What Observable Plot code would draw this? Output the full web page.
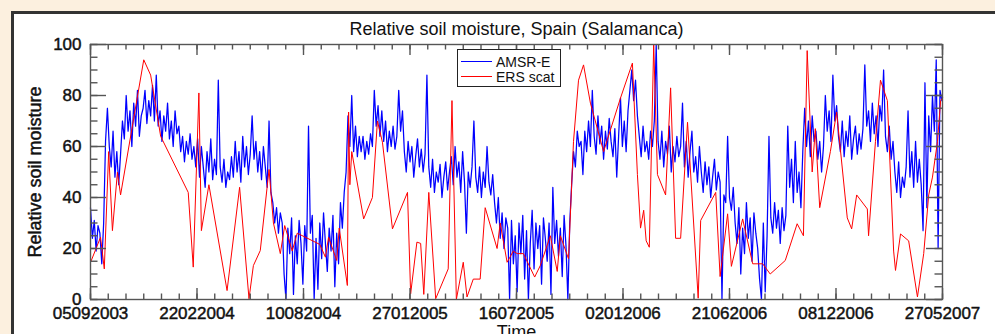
<!DOCTYPE html>
<html><head><meta charset="utf-8">
<script src="https://cdn.jsdelivr.net/npm/d3@7"></script>
<script src="https://cdn.jsdelivr.net/npm/@observablehq/plot@0.6"></script>
<style>
html,body{margin:0;padding:0;background:#fcf0df;}
#wrap{position:relative;width:995px;height:334px;overflow:hidden;background:#fcf0df;}
#panel{position:absolute;left:11px;top:11px;width:1000px;height:340px;background:#fff;border-left:3px solid #333;border-top:3px solid #333;}
#chart{position:absolute;left:0;top:0;}
#legend{position:absolute;left:457px;top:49px;width:102px;height:36px;border:1px solid #222;background:#fff;}
#chart g[aria-label="x-axis tick label"] text, #chart g[aria-label="y-axis tick label"] text, #chart .ytitle text {stroke:#111;stroke-width:0.45px;}
</style></head><body>
<div id="wrap"><div id="panel"></div><div id="chart"></div><div id="legend"></div></div>
<script>
const FONT = '"Liberation Sans", Arial, Helvetica, sans-serif';
const title = "Relative soil moisture, Spain (Salamanca)";
const yTitle = "Relative soil moisture";
const xTitle = "Time";
const tickLabels = ["05092003","22022004","10082004","27012005","16072005","02012006","21062006","08122006","27052007"];
const yTicks = [0, 20, 40, 60, 80, 100];
const seriesNames = ["AMSR-E", "ERS scat"];
const seriesColors = ["#0000ff", "#ff0000"];

// AMSR-E: one value every 3 days from 05/09/2003
const amsrStep = 3;
const amsrValues = [
36,24,31,19,29,26,14,30,62,75,
60,52,66,48,58,45,57,
70,63,80,66,74,60,77,68,82,64,72,
75,82,69,78,72,84,70,88,
68,74,62,72,66,77,63,70,60,74,65,68,
58,64,54,62,57,65,55,60,52,63,
48,60,52,44,58,50,63,47,55,49,
86,
52,46,55,44,50,47,
56,48,62,50,58,46,64,52,60,49,57,72,
55,62,50,58,47,60,52,44,70,42,
38,30,36,26,34,
30,10,0,28,18,32,2,25,14,31,22,6,29,19,68,26,33,0,24,4,30,16,34,22,11,28,19,33,5,26,14,
38,28,42,50,
72,60,80,58,68,56,64,
58,64,55,62,57,65,60,
82,68,76,64,74,
62,70,58,66,60,68,59,64,
82,66,74,
58,50,62,54,60,48,56,63,52,59,50,57,
88,
52,44,55,42,50,46,53,40,48,54,43,50,
56,45,60,48,54,42,58,46,26,50,44,52,
70,
48,42,52,40,50,44,60,46,41,49,
38,30,40,24,34,20,32,
28,0,31,14,25,3,30,18,33,8,27,0,22,35,12,30,20,29,6,32,24,15,30,2,44,22,31,17,28,9,33,21,0,30,
45,58,52,66,60,
62,49,66,58,70,60,82,64,57,72,61,68,55,66,59,71,62,56,67,48,64,79,60,70,58,
74,82,90,78,86,72,
64,56,68,58,62,55,66,60,
70,100,62,
55,66,52,62,57,68,50,60,54,64,56,
60,77,52,62,48,58,66,50,56,46,60,
50,42,54,45,52,40,48,55,43,50,46,0,41,38,
64,40,35,44,
30,22,36,10,28,18,38,24,32,15,34,26,20,8,0,30,3,25,
64,
32,26,38,28,35,22,36,27,33,
68,44,55,38,62,42,50,36,58,
75,60,70,56,72,62,66,
55,62,50,60,
80,66,74,62,88,70,76,
64,58,70,56,66,60,72,55,63,68,57,65,59,67,
92,
68,74,62,77,65,72,60,76,70,90,
64,58,68,55,62,
50,42,54,40,48,44,52,
74,48,58,44,62,46,55,
45,27,85,36,
72,58,80,66,94,20,82,78
];

// ERS scatterometer: day offset from 05/09/2003 and value
const ersDays = [0,16,22,29,35,43,48,85,96,112,156,164,173,177,189,218,238,253,260,271,285,292,303,310,322,330,366,375,380,393,397,410,412,414,417,436,450,458,466,482,506,511,521,527,532,540,551,571,577,584,595,601,611,622,630,649,654,665,675,681,691,709,718,734,745,750,763,771,779,787,798,819,846,865,873,878,883,887,892,899,905,918,926,934,942,953,970,974,998,1005,1017,1023,1041,1057,1073,1085,1109,1128,1138,1144,1152,1157,1164,1181,1191,1208,1215,1223,1240,1242,1253,1261,1272,1282,1285,1293,1306,1320,1330,1338,1344,1352,1357,1360];
const ersValues = [14.5,24.4,12,58,27,50,41,94,88,64,42,12.7,81,27,45,3.5,44,0.3,13.3,19.2,51,30,18,29,19,26,21.6,16.6,24.4,15.3,28,5.5,73.5,45,58,31.6,40,70,61.7,27.7,42,2.2,22.5,22,2,42,0.3,12,78,0,14.6,1,8,8,36,20,30,14.6,19,18,18,8.8,13.3,25,11,25,16,62,86,92,77,58,79,92.7,49,28,35,23,20.5,100,49,41,83,24,24,69.5,0.5,31,42,9,33.6,13,31.6,14,14,10,15.3,29.7,25,97.6,50,67,36,58,73.5,32,27.7,41,35.5,25,62,86,78,19,11.4,25.7,23,1,18,41,48,62,78,79];

const parse = d3.utcParse("%d%m%Y");
const fmt = d3.utcFormat("%d%m%Y");
const start = parse(tickLabels[0]);
const dayMs = 864e5;
const majors = tickLabels.map(parse);
const majorStep = (majors[1] - majors[0]);
const minors = d3.range(0, 6 * (majors.length - 1) + 1).map(k => new Date(+start + k * majorStep / 6));
const yMinor = d3.range(0, 101, 5);

const amsr = amsrValues.map((v, i) => ({date: new Date(+start + i * amsrStep * dayMs), value: v}));
const ers = ersDays.map((d, i) => ({date: new Date(+start + d * dayMs), value: ersValues[i]}));

const W = 995, H = 334, mL = 90, mR = 53, mT = 44, mB = 35;
const pw = W - mL - mR, ph = H - mT - mB;
const AX = "#555", AW = 1.4;

const chart = Plot.plot({
  width: W, height: H, marginLeft: mL, marginRight: mR, marginTop: mT, marginBottom: mB,
  style: {background: "transparent", fontFamily: FONT, color: "#111", overflow: "visible"},
  x: {type: "utc", domain: [majors[0], majors[majors.length - 1]]},
  y: {domain: [0, 100]},
  marks: [
    Plot.lineY(amsr, {x: "date", y: "value", stroke: seriesColors[0], strokeWidth: 1.25}),
    Plot.lineY(ers, {x: "date", y: "value", stroke: seriesColors[1], strokeWidth: 1}),
    // minor & major ticks, bottom and top
    Plot.tickX(minors, {x: d => d, insetTop: ph - 5.5, stroke: AX, strokeWidth: AW}),
    Plot.tickX(minors, {x: d => d, insetBottom: ph - 5.5, stroke: AX, strokeWidth: AW}),
    Plot.tickX(majors, {x: d => d, insetTop: ph - 11, stroke: AX, strokeWidth: AW}),
    Plot.tickX(majors, {x: d => d, insetBottom: ph - 11, stroke: AX, strokeWidth: AW}),
    // y ticks, left and right
    Plot.tickY(yMinor, {y: d => d, insetRight: pw - 7.5, stroke: AX, strokeWidth: AW}),
    Plot.tickY(yMinor, {y: d => d, insetLeft: pw - 7.5, stroke: AX, strokeWidth: AW}),
    Plot.tickY(yTicks, {y: d => d, insetRight: pw - 16, stroke: AX, strokeWidth: AW}),
    Plot.tickY(yTicks, {y: d => d, insetLeft: pw - 16, stroke: AX, strokeWidth: AW}),
    Plot.frame({stroke: AX, strokeWidth: AW}),
    Plot.axisX({ticks: majors, tickFormat: fmt, tickSize: 0, tickPadding: 7, fontSize: 17, label: null, anchor: "bottom"}),
    Plot.axisY({ticks: yTicks, tickSize: 0, tickPadding: 9, fontSize: 17, label: null, anchor: "left"}),
    Plot.text([yTitle], {text: d => d, frameAnchor: "left", textAnchor: "middle", dx: -55.5, rotate: -90, fontSize: 18, fill: "#111", className: "ytitle"}),
    Plot.text([title], {text: d => d, frameAnchor: "top", dy: -10, lineAnchor: "bottom", fontSize: 18, fill: "#111"}),
    Plot.text([xTitle], {text: d => d, frameAnchor: "bottom", dy: 26, lineAnchor: "top", fontSize: 18, fill: "#111"})
  ]
});
document.getElementById("chart").appendChild(chart);

// legend
const lg = d3.select("#legend").append("svg").attr("width", 102).attr("height", 36)
  .style("font-family", FONT).style("font-size", "14px");
seriesNames.forEach((name, i) => {
  const yy = 11.5 + i * 15;
  lg.append("line").attr("x1", 3).attr("x2", 34).attr("y1", yy).attr("y2", yy)
    .attr("stroke", seriesColors[i]).attr("stroke-width", 1);
  lg.append("text").attr("x", 38).attr("y", yy + 5).attr("fill", "#111").text(name);
});
</script>
</body></html>
